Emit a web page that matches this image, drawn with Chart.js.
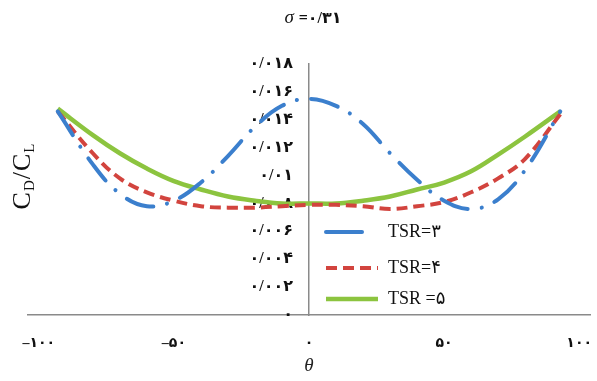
<!DOCTYPE html>
<html>
<head>
<meta charset="utf-8">
<script src="https://cdn.jsdelivr.net/npm/chart.js@4/dist/chart.umd.min.js"></script>
<style>
  html, body { margin: 0; padding: 0; background: #fff; }
  #wrap { width: 597px; height: 381px; }
</style>
</head>
<body>
<div id="wrap"><canvas id="chart" width="597" height="381"></canvas></div>
<script>
// values (theta in degrees, Cd/Cl ratio)
const theta = [-93, -80, -70, -60, -50, -40, -30, -20, -10, 0, 10, 20, 30, 40, 50, 60, 70, 80, 93];
const tsr3 = [0.0146, 0.0108, 0.0087, 0.0078, 0.0082, 0.0095, 0.0114, 0.0135, 0.0150, 0.0155, 0.0150, 0.0137, 0.0116, 0.0097, 0.0082, 0.0076, 0.0083, 0.0104, 0.0146];
const tsr4 = [0.0146, 0.0116, 0.0098, 0.0088, 0.0082, 0.0078, 0.0077, 0.0077, 0.0078, 0.0079, 0.0079, 0.0078, 0.0076, 0.0078, 0.0081, 0.0088, 0.0098, 0.0112, 0.0144];
const tsr5 = [0.0148, 0.0129, 0.0116, 0.0105, 0.0096, 0.0090, 0.0085, 0.0082, 0.0080, 0.0080, 0.0080, 0.0082, 0.0085, 0.0090, 0.0095, 0.0103, 0.0115, 0.0128, 0.0146];
const seriesLabels = ["TSR=۳", "TSR=۴", "TSR =۵"];
const xTicks = [-100, -50, 0, 50, 100];
const titleText = "=۰/۳۱";

const faDigits = "۰۱۲۳۴۵۶۷۸۹";
const fa = (v) =>
  String(v).replace(/\d/g, (d) => faDigits[d]).replace(".", "/").replace("-", "–");

const toPoints = (ys) => theta.map((t, i) => ({ x: t, y: ys[i] }));

const serif = "'Liberation Serif', 'DejaVu Sans', serif";
const axisGrey = "#8a8a8a";

// title, y axis title and legend drawn on the canvas
const decorations = {
  id: "decorations",
  afterDraw(chart) {
    const ctx = chart.ctx;
    ctx.save();
    ctx.fillStyle = "#111";
    ctx.textBaseline = "middle";

    // title: σ =۰/۳۱
    ctx.font = "italic 19px " + serif;
    const sw = ctx.measureText("σ ").width;
    ctx.font = "bold 16px " + serif;
    const tw = ctx.measureText(titleText).width;
    let tx = 313 - (sw + tw) / 2;
    ctx.textAlign = "left";
    ctx.font = "italic 19px " + serif;
    ctx.fillText("σ ", tx, 18);
    ctx.font = "bold 16px " + serif;
    ctx.fillText(titleText, tx + sw, 19);

    // y axis title: C_D / C_L
    ctx.translate(23, 176);
    ctx.rotate(-Math.PI / 2);
    const parts = [
      ["C", "26px", 0], ["D", "15px", 7], ["/", "26px", 0], ["C", "26px", 0], ["L", "15px", 7],
    ];
    let total = 0;
    parts.forEach((p) => { ctx.font = p[1] + " " + serif; total += ctx.measureText(p[0]).width + 1; });
    let px = -total / 2;
    parts.forEach((p) => {
      ctx.font = p[1] + " " + serif;
      ctx.fillText(p[0], px, p[2]);
      px += ctx.measureText(p[0]).width + 1;
    });
    ctx.restore();

    // legend inside the plot
    ctx.save();
    const rows = [232, 268, 299];
    chart.data.datasets.forEach((ds, i) => {
      ctx.beginPath();
      ctx.strokeStyle = ds.borderColor;
      ctx.lineWidth = ds.borderWidth;
      ctx.lineCap = ds.borderCapStyle || "butt";
      ctx.setLineDash(i === 0 ? [] : ds.borderDash || []);
      ctx.moveTo(326, rows[i]);
      ctx.lineTo(i === 0 ? 362 : 378, rows[i]);
      ctx.stroke();
      ctx.setLineDash([]);
      ctx.fillStyle = "#111";
      ctx.font = "18px " + serif;
      ctx.textAlign = "left";
      ctx.textBaseline = "middle";
      ctx.fillText(ds.label, 388, rows[i]);
    });
    ctx.restore();
  },
};

new Chart(document.getElementById("chart"), {
  type: "line",
  data: {
    datasets: [
      {
        label: seriesLabels[0],
        data: toPoints(tsr3),
        borderColor: "#3b7fcd",
        borderWidth: 4,
        borderDash: [28, 14, 0.1, 14],
        borderCapStyle: "round",
        pointRadius: 0,
        tension: 0.4,
      },
      {
        label: seriesLabels[1],
        data: toPoints(tsr4),
        borderColor: "#d2443e",
        borderWidth: 4,
        borderDash: [11, 6],
        pointRadius: 0,
        tension: 0.4,
      },
      {
        label: seriesLabels[2],
        data: toPoints(tsr5),
        borderColor: "#8cc43f",
        borderWidth: 4.5,
        pointRadius: 0,
        tension: 0.4,
      },
    ],
  },
  options: {
    responsive: false,
    animation: false,
    layout: { padding: { top: 64, left: 28, right: 7, bottom: 2 } },
    plugins: {
      legend: { display: false },
      tooltip: { enabled: false },
    },
    scales: {
      x: {
        type: "linear",
        min: -104,
        max: 104,
        afterBuildTicks: (axis) => { axis.ticks = xTicks.map((v) => ({ value: v })); },
        afterFit: (axis) => {
          axis.height = 64;
          axis.paddingLeft = 0;
          axis.paddingRight = 0;
        },
        grid: { display: false, drawTicks: false },
        border: { color: axisGrey, width: 1.5 },
        ticks: {
          padding: 20,
          color: "#111",
          font: { family: serif, size: 14, weight: "bold" },
          callback: (v) => fa(v),
        },
        title: {
          display: true,
          text: "θ",
          color: "#222",
          font: { family: serif, size: 19, style: "italic" },
          padding: { top: 2, bottom: 2 },
        },
      },
      y: {
        position: { x: 0 },
        min: 0,
        max: 0.018,
        grid: { display: false, drawTicks: false },
        border: { color: axisGrey, width: 1.5 },
        ticks: {
          stepSize: 0.002,
          color: "#111",
          font: { family: serif, size: 16, weight: "bold" },
          // en spaces keep the labels clear of the centred axis line
          callback: (v) => fa(+v.toFixed(3)) + "\u2002\u2002",
        },
      },
    },
  },
  plugins: [decorations],
});
</script>
</body>
</html>
